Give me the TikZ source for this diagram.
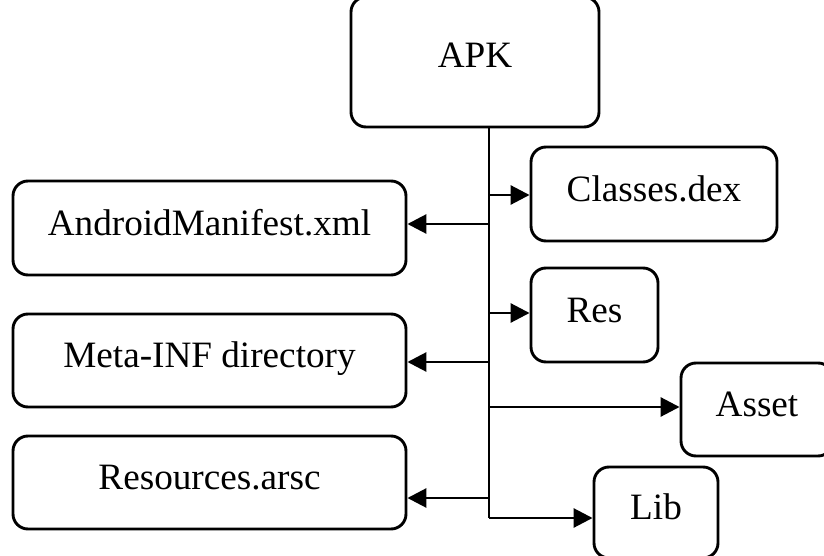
\documentclass[tikz,border=0pt]{standalone}
\usepackage{fontspec}
\setmainfont{Liberation Serif}
\usetikzlibrary{arrows.meta}
\begin{document}
\begin{tikzpicture}[x=1pt,y=-1pt,
  box/.style={draw=black, line width=2.9pt, rounded corners=15pt, inner sep=0pt,
    font=\fontsize{37.2}{42}\selectfont, text height=26pt, text depth=11.4pt, align=center},
  conn/.style={line width=2.9pt},
  arr/.style={line width=2.9pt, -{Triangle[length=19pt,width=19pt]}}]
\useasboundingbox (0,0) rectangle (824,556);
\clip (0,0) rectangle (824,556);
\node[box, minimum width=248pt, minimum height=130pt] (apk) at (475,62) {\raisebox{2pt}{APK}};
\node[box, minimum width=393pt, minimum height=94pt] (man) at (209.5,228) {AndroidManifest.xml};
\node[box, minimum width=393pt, minimum height=93pt] (meta) at (209.5,360.5) {Meta-INF directory};
\node[box, minimum width=393pt, minimum height=93pt] (resa) at (209.5,482.5) {Resources.arsc};
\node[box, minimum width=246pt, minimum height=94pt] (cls) at (654,194) {Classes.dex};
\node[box, minimum width=127pt, minimum height=94pt] (res) at (594.5,315) {Res};
\node[box, minimum width=152pt, minimum height=93pt] (asset) at (757,409.5) {Asset};
\node[box, minimum width=124pt, minimum height=91pt] (lib) at (656,512.5) {Lib};
\coordinate (j1) at (489,195);
\coordinate (j2) at (489,224);
\coordinate (j3) at (489,313);
\coordinate (j4) at (489,362);
\coordinate (j5) at (489,407);
\coordinate (j6) at (489,498);
\coordinate (j7) at (489,518);
\draw[conn] (apk.south -| j1) -- (j7);
\draw[arr] (j1) -- (cls.west |- j1);
\draw[arr] (j2) -- (man.east |- j2);
\draw[arr] (j3) -- (res.west |- j3);
\draw[arr] (j4) -- (meta.east |- j4);
\draw[arr] (j5) -- (asset.west |- j5);
\draw[arr] (j6) -- (resa.east |- j6);
\draw[arr] (j7) -- (lib.west |- j7);
\end{tikzpicture}
\end{document}
